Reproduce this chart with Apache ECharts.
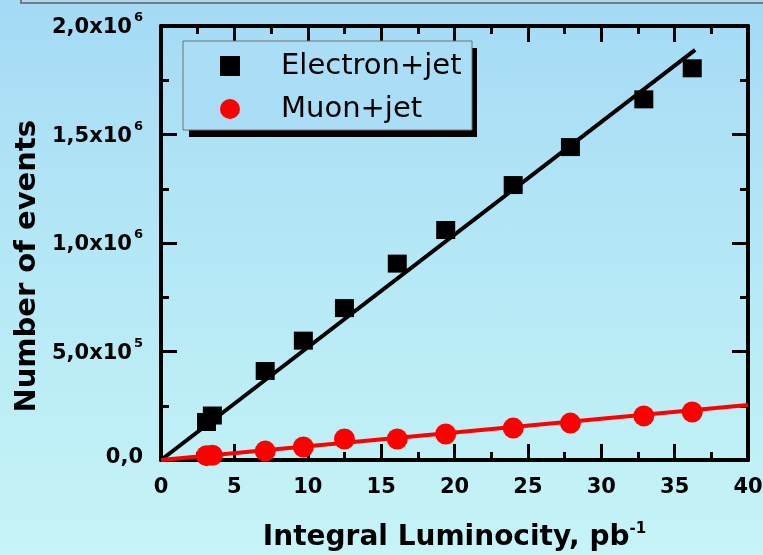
<!DOCTYPE html>
<html>
<head>
<meta charset="utf-8">
<script src="https://cdn.jsdelivr.net/npm/echarts@6/dist/echarts.min.js"></script>
<style>
html,body{margin:0;padding:0;width:763px;height:555px;overflow:hidden;
background:linear-gradient(to bottom,#a4daf5 0%,#b6e9f6 50%,#c6f4f7 100%);}
#c{width:763px;height:555px;}
</style>
</head>
<body>
<div id="c"></div>
<script>
// ---- data ----
const luminosity = [3.1, 3.5, 7.1, 9.7, 12.5, 16.1, 19.4, 24.0, 27.9, 32.9, 36.2];
const electronJet = [175000, 205000, 410000, 550000, 700000, 905000, 1060000, 1267000, 1442000, 1662000, 1805000];
const muonJet = [20000, 22000, 41000, 60000, 97000, 97000, 120000, 147000, 170000, 203000, 221000];
const electronFitX = [0, 36.4];
const electronFitY = [0, 1890000];
const muonFitX = [0, 40];
const muonFitY = [0, 253000];
const yTickValues = [0, 500000, 1000000, 1500000, 2000000];
const yTickMantissa = ['0,0', '5,0', '1,0', '1,5', '2,0'];
const yTickExponent = ['', '5', '6', '6', '6'];
const seriesNames = ['Electron+jet', 'Muon+jet'];

const FONT = 'DejaVu Sans';
const chart = echarts.init(document.getElementById('c'), null, {renderer: 'canvas'});

function pairs(xs, ys) { return xs.map((x, i) => [x, ys[i]]); }

function yLabel(v) {
  const i = yTickValues.indexOf(v);
  if (i < 0) return '';
  if (!yTickExponent[i]) return '{z|' + yTickMantissa[i] + '}';
  return '{m|' + yTickMantissa[i] + 'x10}{s|' + yTickExponent[i] + '}';
}

const axisCommon = {
  axisLine: {show: true, onZero: false, lineStyle: {color: '#000', width: 4}},
  axisTick: {show: true, inside: true, length: 16, lineStyle: {color: '#000', width: 3}},
  minorTick: {show: true, splitNumber: 2, length: 8, lineStyle: {color: '#000', width: 3}},
  splitLine: {show: false}
};

chart.setOption({
  animation: false,
  backgroundColor: 'transparent',
  grid: {left: 161, right: 15, top: 26, bottom: 95, containLabel: false, outerBoundsMode: 'none'},
  legend: {
    data: seriesNames,
    orient: 'vertical',
    left: 183, top: 41,
    padding: [10, 9, 7, 37],
    itemWidth: 20, itemHeight: 20, itemGap: 13,
    z: 10,
    textStyle: {fontFamily: FONT, fontSize: 29, color: '#000', lineHeight: 30, padding: [0, 0, 0, 36]}
  },
  xAxis: [
    Object.assign({
      type: 'value', min: 0, max: 40, interval: 5, position: 'bottom',
      axisLabel: {show: true, margin: 17, fontFamily: FONT, fontSize: 21, fontWeight: 'bold', color: '#000'},
      name: 'Integral Luminocity, pb{s|-1}',
      nameLocation: 'middle', nameGap: 62,
      nameTextStyle: {fontFamily: FONT, fontSize: 28, fontWeight: 'bold', color: '#000',
        rich: {s: {fontFamily: FONT, fontSize: 15, fontWeight: 'bold', color: '#000', verticalAlign: 'bottom', padding: [0, 0, 16, 0]}}}
    }, axisCommon),
    Object.assign({
      type: 'value', min: 0, max: 40, interval: 5, position: 'top',
      axisLabel: {show: false}
    }, axisCommon)
  ],
  yAxis: [
    Object.assign({
      type: 'value', min: 0, max: 2000000, interval: 500000, position: 'left',
      axisLabel: {
        show: true, margin: 18, formatter: yLabel,
        rich: {
          z: {fontFamily: FONT, fontSize: 21, fontWeight: 'bold', color: '#000', lineHeight: 21, padding: [0, 0, 4, 0]},
          m: {fontFamily: FONT, fontSize: 21, fontWeight: 'bold', color: '#000', lineHeight: 21, padding: [6, 0, 2, 0]},
          s: {fontFamily: FONT, fontSize: 13, fontWeight: 'bold', color: '#000', lineHeight: 13, padding: [0, 0, 16, 2]}
        }
      }
    }, axisCommon),
    Object.assign({
      type: 'value', min: 0, max: 2000000, interval: 500000, position: 'right',
      axisLabel: {show: false}
    }, axisCommon)
  ],
  graphic: [
    {type: 'line', shape: {x1: 21, y1: 3, x2: 763, y2: 3}, style: {stroke: '#7a7a7a', lineWidth: 2}, silent: true},
    {type: 'line', shape: {x1: 21, y1: 0, x2: 21, y2: 4}, style: {stroke: '#7a7a7a', lineWidth: 2}, silent: true},
    {type: 'text', left: 13, top: 120, rotation: Math.PI / 2,
      style: {text: 'Number of events', fontFamily: FONT, fontSize: 29, fontWeight: 'bold', fill: '#000'}},
    {type: 'rect', z: 5, silent: true, shape: {x: 189, y: 48, width: 288, height: 89}, style: {fill: '#000'}},
    {type: 'rect', z: 6, silent: true, shape: {x: 183, y: 41, width: 289, height: 89},
      style: {fill: '#aadef6', stroke: '#707070', lineWidth: 1}}
  ],
  series: [
    {
      name: 'Electron fit', type: 'line', xAxisIndex: 0, yAxisIndex: 0,
      data: pairs(electronFitX, electronFitY), showSymbol: false, symbol: 'none',
      lineStyle: {color: '#000', width: 4}, z: 2, silent: true
    },
    {
      name: 'Muon fit', type: 'line', xAxisIndex: 0, yAxisIndex: 0,
      data: pairs(muonFitX, muonFitY), showSymbol: false, symbol: 'none',
      lineStyle: {color: '#ff0000', width: 4}, z: 2, silent: true
    },
    {
      name: seriesNames[0], type: 'scatter', xAxisIndex: 0, yAxisIndex: 0,
      data: pairs(luminosity, electronJet), symbol: 'rect', symbolSize: [19, 18],
      itemStyle: {color: '#000', opacity: 1}, z: 3
    },
    {
      name: seriesNames[1], type: 'scatter', xAxisIndex: 0, yAxisIndex: 0,
      data: pairs(luminosity, muonJet), symbol: 'circle', symbolSize: 21,
      itemStyle: {color: '#ff0000', opacity: 1}, z: 3
    }
  ]
});
</script>
</body>
</html>
